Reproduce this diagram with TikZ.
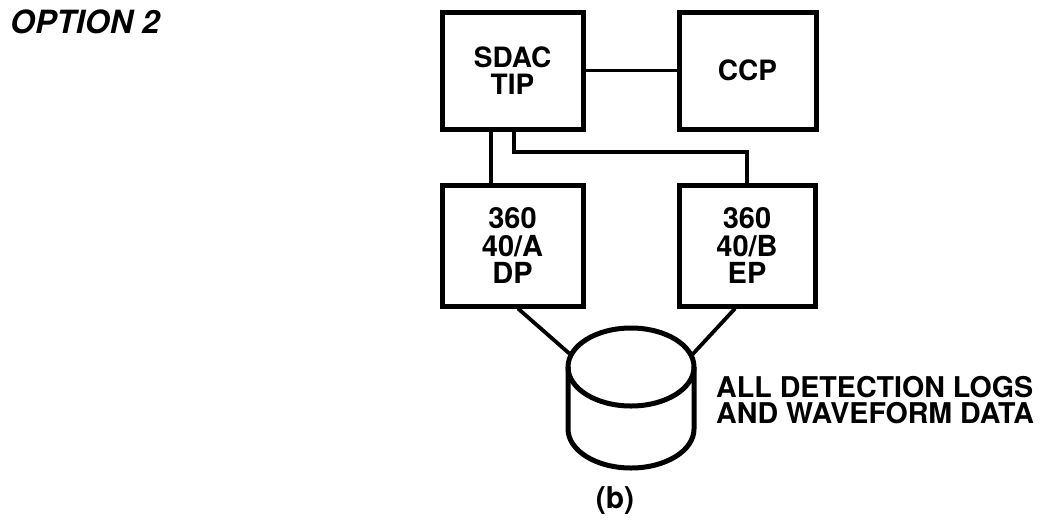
\documentclass[tikz,border=0pt]{standalone}
\usepackage{fontspec}
\setmainfont{TeX Gyre Heros}
\begin{document}
\begin{tikzpicture}[x=1pt,y=-1pt,
  box/.style={draw,line width=5pt,minimum width=141pt,minimum height=117pt,inner sep=0pt,align=center,font=\fontsize{28}{26.5}\selectfont\bfseries},
  link/.style={line width=3.8pt},
  cyl/.style={line width=5pt}]
\useasboundingbox (0,0) rectangle (1046,520);
\node[box] (sdac) at (512.5,70.5) {SDAC\\TIP};
\node[box,minimum width=137pt] (ccp) at (747.5,70.5) {CCP};
\node[box,minimum height=121pt,font=\fontsize{29}{27.5}\selectfont\bfseries] (dp) at (512.5,245.5) {360\\40/A\\DP};
\node[box,minimum width=136pt,minimum height=121pt,font=\fontsize{29}{27.5}\selectfont\bfseries] (ep) at (747,245.5) {360\\40/B\\EP};
\coordinate (xa) at (491,0);
\coordinate (xb) at (514,152);
\coordinate (xc) at (518,0);
\coordinate (xd) at (735,0);
\coordinate (cyl) at (631,367);
\coordinate (cylL) at (571,355);
\coordinate (cylR) at (691,356);
\draw[link] (sdac) -- (ccp);
\draw[link] (xa |- sdac.south) -- (xa |- dp.north);
\draw[link] (xb |- sdac.south) -- (xb) -| (ep.north);
\draw[link] (xc |- dp.south) -- (cylL);
\draw[link] (xd |- ep.south) -- (cylR);
\draw[cyl] (cyl) ellipse [x radius=63pt, y radius=39pt];
\draw[cyl] (568,367) -- (568,429) arc[start angle=180,end angle=360,x radius=63pt,y radius=39pt] -- (694,367);
\node[anchor=west,align=left,inner sep=0pt,font=\fontsize{28.6}{26.8}\selectfont\bfseries] (note) at (716,400) {ALL DETECTION LOGS\\AND WAVEFORM DATA};
\node[anchor=west,inner sep=0pt,font=\fontsize{32}{32}\selectfont\bfseries\itshape] (opt) at (10,22) {OPTION 2};
\node[inner sep=0pt,font=\fontsize{30}{30}\selectfont\bfseries] (lab) at (615,501) {(b)};
\end{tikzpicture}
\end{document}
